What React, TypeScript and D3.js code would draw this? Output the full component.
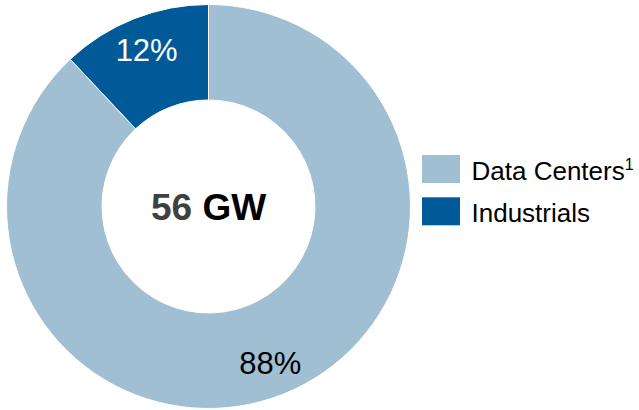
import React from "react";
import * as d3 from "d3";

const categories = ["Data Centers", "Industrials"];
const values = [88, 12];
const colors = ["#a1bfd2", "#005a98"];
const labelColors = ["#000000", "#ffffff"];
const totalValue = "56";
const totalUnit = "GW";

export default function App() {
  const width = 639;
  const height = 410;
  const cx = 208.5;
  const cy = 206.5;
  const outerR = 202;
  const innerR = 106.5;
  const labelR = 168;

  const pie = d3
    .pie<number>()
    .sort(null)
    .value((d) => d)
    .startAngle(0)
    .endAngle(2 * Math.PI);
  const arcs = pie(values);
  const arc = d3.arc<d3.PieArcDatum<number>>().innerRadius(innerR).outerRadius(outerR);
  const labelArc = d3.arc<d3.PieArcDatum<number>>().innerRadius(labelR).outerRadius(labelR);

  const font = "Liberation Sans, Arial, sans-serif";

  return (
    <svg
      width={width}
      height={height}
      style={{ position: "absolute", left: 0, top: 0, display: "block" }}
      fontFamily={font}
    >
      <rect width={width} height={height} fill="#ffffff" />
      <g transform={`translate(${cx},${cy})`}>
        {arcs.map((a, i) => (
          <path key={categories[i]} d={arc(a) || ""} fill={colors[i]} stroke="#ffffff" strokeWidth={1} />
        ))}
        {arcs.map((a, i) => {
          const [x, y] = labelArc.centroid(a);
          return (
            <text
              key={"l" + i}
              x={x}
              y={y}
              dy="0.36em"
              textAnchor="middle"
              fontSize={31}
              fill={labelColors[i]}
            >
              {values[i]}%
            </text>
          );
        })}
        <text x={0} y={0} dy="0.36em" textAnchor="middle" fontSize={37} fontWeight="bold">
          <tspan fill="#404040">{totalValue}</tspan>
          <tspan fill="#000000"> {totalUnit}</tspan>
        </text>
      </g>
      <g>
        {categories.map((c, i) => (
          <g key={c} transform={`translate(422,${155 + i * 42.3})`}>
            <rect width={38} height={28} fill={colors[i]} />
            <text x={49.5} y={24.5} fontSize={26} fill="#000000">
              {c}
              {i === 0 ? (
                <tspan fontSize={16} dy={-10}>
                  1
                </tspan>
              ) : null}
            </text>
          </g>
        ))}
      </g>
    </svg>
  );
}
